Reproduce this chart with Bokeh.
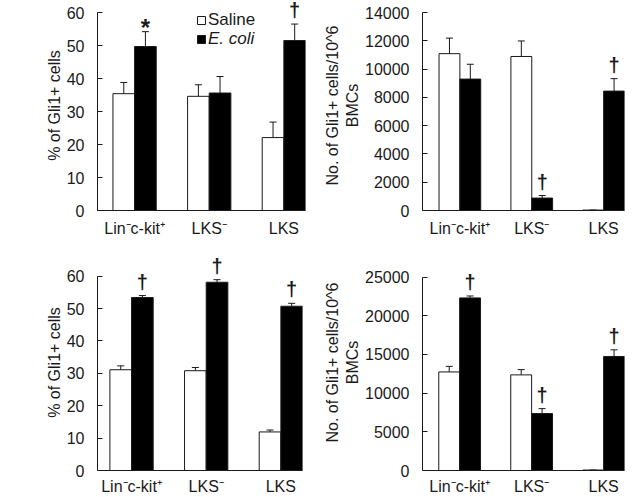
from bokeh.plotting import figure
from bokeh.layouts import column, row
from bokeh.models import (ColumnDataSource, Whisker, TeeHead, FixedTicker, Label,
                          Legend, LegendItem)
from bokeh.core.properties import value
from bokeh.embed import file_html
from bokeh.resources import INLINE

# ---------------- data ----------------
groups = ["Lin\u207bc-kit\u207a", "LKS\u207b", "LKS"]
series = ["Saline", "E. coli"]
time_labels = ["24 h", "48 h"]

# 24 h, % of Gli1+ cells
pct24_saline = [35.4, 34.6, 22.1]
pct24_saline_se = [3.4, 3.5, 4.7]
pct24_ecoli = [49.7, 35.6, 51.5]
pct24_ecoli_se = [4.5, 5.0, 5.0]
pct24_marks = ["*", "", "\u2020"]

# 24 h, No. of Gli1+ cells / 10^6 BMCs
num24_saline = [11100, 10900, 30]
num24_saline_se = [1100, 1100, 0]
num24_ecoli = [9300, 880, 8450]
num24_ecoli_se = [1050, 180, 880]
num24_marks = ["", "\u2020", "\u2020"]

# 48 h, % of Gli1+ cells
pct48_saline = [31.1, 30.8, 11.9]
pct48_saline_se = [1.2, 1.0, 0.6]
pct48_ecoli = [53.4, 58.1, 50.7]
pct48_ecoli_se = [0.6, 0.8, 0.9]
pct48_marks = ["\u2020", "\u2020", "\u2020"]

# 48 h, No. of Gli1+ cells / 10^6 BMCs
num48_saline = [12740, 12360, 60]
num48_saline_se = [720, 680, 0]
num48_ecoli = [22310, 7360, 14740]
num48_ecoli_se = [250, 640, 860]
num48_marks = ["\u2020", "\u2020", "\u2020"]

pct_ticks = [0, 10, 20, 30, 40, 50, 60]
num24_ticks = [0, 2000, 4000, 6000, 8000, 10000, 12000, 14000]
num48_ticks = [0, 5000, 10000, 15000, 20000, 25000]

pct_label = "% of Gli1+ cells"
num_label = "No. of Gli1+ cells/10^6\nBMCs"

# ---------------- style ----------------
FONT = "Liberation Sans"
INK = "#1a1a1a"
BAR = 0.29
FS = "16px"
MARK_OFFSET = {"*": 9, "\u2020": -3, "": 0}
MARK_SIZE = {"*": "24px", "\u2020": "20px", "": "20px"}


def panel(width, height, borders, x_start, y_top, ticks, ylabel, label_standoff,
          xlabel_standoff, saline, saline_se, ecoli, ecoli_se, marks):
    left, right, top, bottom = borders
    p = figure(width=width, height=height, x_range=(x_start, 2 + BAR),
               y_range=(0, y_top), output_backend="svg", toolbar_location=None,
               min_border_left=left, min_border_right=right,
               min_border_top=top, min_border_bottom=bottom)
    p.outline_line_color = None
    p.xgrid.visible = False
    p.ygrid.visible = False
    p.background_fill_color = "white"

    xs_s = [i - BAR / 2 for i in range(len(groups))]
    xs_e = [i + BAR / 2 for i in range(len(groups))]
    src_s = ColumnDataSource(dict(x=xs_s, top=saline,
                                  upper=[v + e for v, e in zip(saline, saline_se)]))
    src_e = ColumnDataSource(dict(x=xs_e, top=ecoli,
                                  upper=[v + e for v, e in zip(ecoli, ecoli_se)],
                                  mark=marks,
                                  off=[MARK_OFFSET[m] for m in marks],
                                  size=[MARK_SIZE[m] for m in marks]))

    rs = p.vbar(x="x", top="top", width=BAR, source=src_s, fill_color="white",
                line_color=INK, line_width=1)
    re_ = p.vbar(x="x", top="top", width=BAR, source=src_e, fill_color="black",
                 line_color=INK, line_width=1)
    for src in (src_s, src_e):
        w = Whisker(source=src, base="x", upper="upper", lower="top",
                    line_color=INK, line_width=1,
                    upper_head=TeeHead(size=7, line_color=INK, line_width=1),
                    lower_head=None, level="glyph")
        p.add_layout(w)

    p.text(x="x", y="upper", text="mark", source=src_e, y_offset="off",
           text_align="center", text_baseline="bottom",
           text_font=value(FONT), text_font_size="size", text_font_style="bold",
           text_color=INK)

    # y axis
    ya = p.yaxis[0]
    ya.ticker = FixedTicker(ticks=ticks)
    ya.bounds = (ticks[0], ticks[-1])
    ya.minor_tick_line_color = None
    ya.major_tick_in = 5
    ya.major_tick_out = 0
    ya.major_label_standoff = 13
    ya.axis_line_color = INK
    ya.major_tick_line_color = INK
    ya.major_label_text_font = FONT
    ya.major_label_text_font_size = FS
    ya.major_label_text_color = INK
    ya.axis_label = ylabel
    ya.axis_label_text_font = FONT
    ya.axis_label_text_font_size = FS
    ya.axis_label_text_font_style = "normal"
    ya.axis_label_text_color = INK
    ya.axis_label_standoff = label_standoff

    # x axis
    xa = p.xaxis[0]
    xa.ticker = FixedTicker(ticks=list(range(len(groups))))
    xa.major_label_overrides = {i: g for i, g in enumerate(groups)}
    xa.major_tick_in = 0
    xa.major_tick_out = 0
    xa.minor_tick_line_color = None
    xa.major_label_standoff = xlabel_standoff
    xa.axis_line_color = INK
    xa.major_label_text_font = FONT
    xa.major_label_text_font_size = FS
    xa.major_label_text_color = INK
    return p, rs, re_


TOP_H = 250
BOT_H = 247

tl, tl_s, tl_e = panel(320, TOP_H, (97, 15, 0, 40), -0.497, 63.64, pct_ticks,
                       pct_label, 1, 9, pct24_saline, pct24_saline_se,
                       pct24_ecoli, pct24_ecoli_se, pct24_marks)
tr, _, _ = panel(321, TOP_H, (100, 17, 0, 38), -0.52, 14862, num24_ticks,
                 num_label, 1, 9, num24_saline, num24_saline_se,
                 num24_ecoli, num24_ecoli_se, num24_marks)
bl, _, _ = panel(320, BOT_H, (97, 18, 4, 26), -0.456, 66.67, pct_ticks,
                 pct_label, 1, 7, pct48_saline, pct48_saline_se,
                 pct48_ecoli, pct48_ecoli_se, pct48_marks)
br, _, _ = panel(321, BOT_H, (99, 17, 4, 26), -0.516, 27921, num48_ticks,
                 num_label, 1, 7, num48_saline, num48_saline_se,
                 num48_ecoli, num48_ecoli_se, num48_marks)

# legend (two legends so that "E. coli" can be italic)
for label, rend, style, ypos in ((series[0], tl_s, "normal", 180),
                                 (series[1], tl_e, "italic", 161)):
    lg = Legend(items=[LegendItem(label=label, renderers=[rend])],
                location=(99, ypos), glyph_width=10, glyph_height=10,
                label_height=14, label_standoff=2, padding=0, margin=0,
                spacing=0, border_line_color=None, background_fill_alpha=0,
                label_text_font=FONT, label_text_font_size="17px",
                label_text_font_style=style, label_text_color=INK)
    tl.add_layout(lg, "center")

# time labels
for p, txt, ypos in ((tl, time_labels[0], 98), (bl, time_labels[1], 106)):
    p.add_layout(Label(x=-89, y=ypos, x_units="screen", y_units="screen",
                       text=txt, text_align="left", text_baseline="middle",
                       text_font=FONT, text_font_size=FS, text_color=INK))

layout = column(row(tl, tr), row(bl, br))

with open("out.html", "w") as f:
    f.write(file_html(layout, INLINE))
